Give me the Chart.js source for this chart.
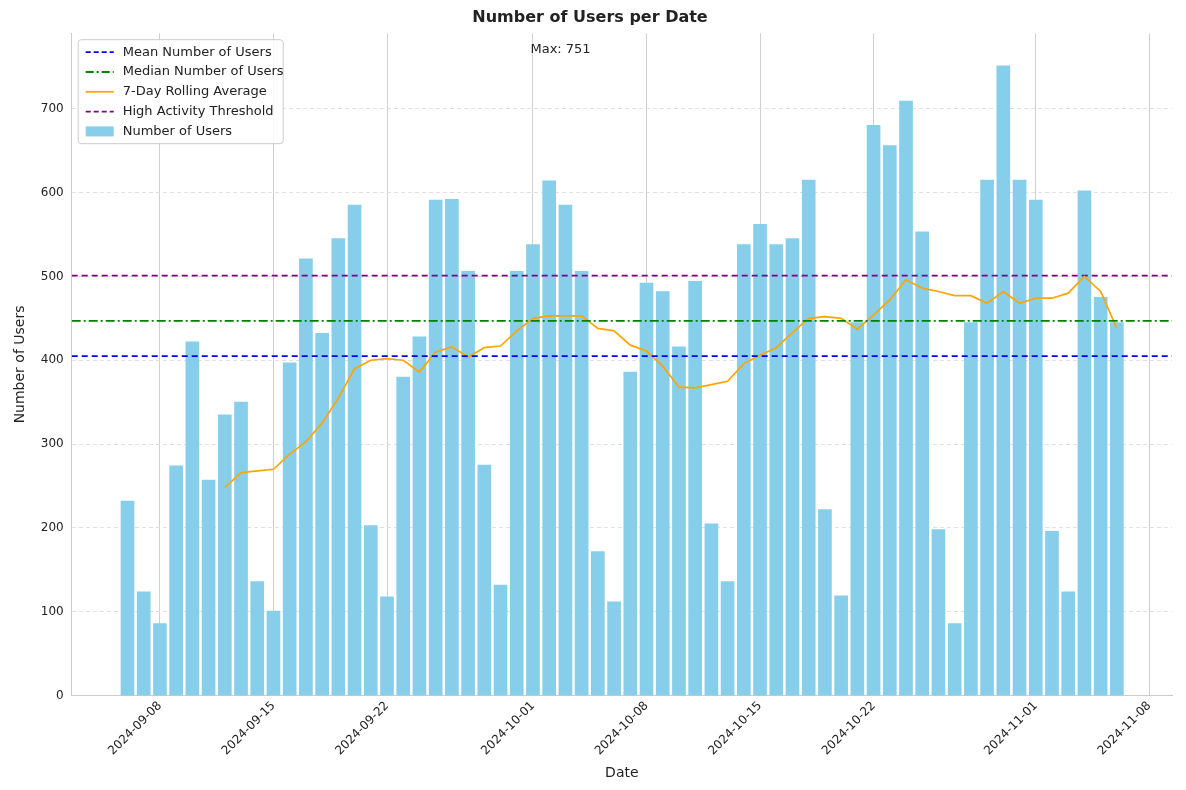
<!DOCTYPE html>
<html><head><meta charset="utf-8">
<script src="https://cdn.jsdelivr.net/npm/chart.js@4"></script>
<style>body{margin:0;background:#fff}#w{width:1186px;height:790px}</style>
</head><body><div id="w"><canvas id="c"></canvas></div>
<script>
var dates = ["2024-09-06","2024-09-07","2024-09-08","2024-09-09","2024-09-10","2024-09-11","2024-09-12","2024-09-13","2024-09-14","2024-09-15","2024-09-16","2024-09-17","2024-09-18","2024-09-19","2024-09-20","2024-09-21","2024-09-22","2024-09-23","2024-09-24","2024-09-25","2024-09-26","2024-09-27","2024-09-28","2024-09-29","2024-09-30","2024-10-01","2024-10-02","2024-10-03","2024-10-04","2024-10-05","2024-10-06","2024-10-07","2024-10-08","2024-10-09","2024-10-10","2024-10-11","2024-10-12","2024-10-13","2024-10-14","2024-10-15","2024-10-16","2024-10-17","2024-10-18","2024-10-19","2024-10-20","2024-10-21","2024-10-22","2024-10-23","2024-10-24","2024-10-25","2024-10-26","2024-10-27","2024-10-28","2024-10-29","2024-10-30","2024-10-31","2024-11-01","2024-11-02","2024-11-03","2024-11-04","2024-11-05","2024-11-06"];
var users = [232,124,86,274,422,257,335,350,136,101,397,521,432,545,585,203,118,380,428,591,592,506,275,132,506,538,614,585,506,172,112,386,492,482,416,494,205,136,538,562,538,545,615,222,119,445,680,656,709,553,198,86,445,615,751,615,591,196,124,602,475,445];
var rolling = [null,null,null,null,null,null,248,266,268,270,288,303,325,355,390,400,402,400,386,410,416,404,415,417,435,450,453,453,453,438,435,418,411,393,368,367,371,375,396,406,415,433,450,452,450,437,454,472,496,486,482,477,477,468,482,468,474,474,480,500,482,438];
var meanUsers = 405, medianUsers = 447, highThreshold = 501;
var tickLabels = ["2024-09-08","2024-09-15","2024-09-22","2024-10-01","2024-10-08","2024-10-15","2024-10-22","2024-11-01","2024-11-08"];
var yTicks = [0,100,200,300,400,500,600,700];

var DAY = 86400000, t0 = Date.parse(dates[0]);
function idx(d){ return Math.round((Date.parse(d) - t0) / DAY); }
var tickIdx = tickLabels.map(idx);
var xmin = -3.44, xmax = 64.4;
function hline(v){ return [{x:xmin,y:v},{x:xmax,y:v}]; }

var legendItems = [
  {t:"Mean Number of Users", c:"blue", dash:[5,3]},
  {t:"Median Number of Users", c:"green", dash:[8,3,2,3]},
  {t:"7-Day Rolling Average", c:"orange", dash:[]},
  {t:"High Activity Threshold", c:"purple", dash:[5,3]},
  {t:"Number of Users", c:"skyblue", box:true}
];
var extras = {
  id:"extras",
  afterDraw:function(ch){
    var g = ch.ctx, ca = ch.chartArea, xs = ch.scales.x, ys = ch.scales.y;
    g.save();
    g.font = "13px 'DejaVu Sans'"; g.fillStyle = "#222"; g.textAlign = "center"; g.textBaseline = "middle";
    g.fillText("Max: " + Math.max.apply(null, users), xs.getPixelForValue(26.7), ys.getPixelForValue(770));
    var x = ca.left + 6, y = ca.top + 6, w = 205, h = 104;
    g.fillStyle = "rgba(255,255,255,0.85)"; g.strokeStyle = "#ccc"; g.lineWidth = 1;
    g.beginPath(); g.roundRect(x + .5, y + .5, w, h, 3); g.fill(); g.stroke();
    g.textAlign = "left";
    legendItems.forEach(function(it, i){
      var yy = y + 13 + i * 19.8;
      if (it.box) { g.fillStyle = it.c; g.fillRect(x + 8, yy - 5, 28, 10); }
      else { g.strokeStyle = it.c; g.lineWidth = 1.8; g.setLineDash(it.dash); g.beginPath(); g.moveTo(x + 8, yy); g.lineTo(x + 36, yy); g.stroke(); g.setLineDash([]); }
      g.fillStyle = "#222"; g.fillText(it.t, x + 45, yy);
    });
    g.restore();
  }
};

new Chart(document.getElementById("c"), {
  data: {
    datasets: [
      {type:"line", label:"Mean Number of Users", data:hline(meanUsers), borderColor:"blue", borderDash:[6,4], borderWidth:1.7, pointRadius:0, order:1},
      {type:"line", label:"Median Number of Users", data:hline(medianUsers), borderColor:"green", borderDash:[9,3,2,3], borderWidth:1.7, pointRadius:0, order:1},
      {type:"line", label:"7-Day Rolling Average", data:rolling.map(function(v,i){return {x:i,y:v};}), borderColor:"orange", borderWidth:1.7, pointRadius:0, order:1},
      {type:"line", label:"High Activity Threshold", data:hline(highThreshold), borderColor:"purple", borderDash:[6,4], borderWidth:1.7, pointRadius:0, order:1},
      {type:"bar", label:"Number of Users", data:users.map(function(v,i){return {x:i,y:v};}), backgroundColor:"skyblue", barThickness:13, order:2}
    ]
  },
  options: {
    responsive:true, maintainAspectRatio:false, animation:false,
    layout:{padding:{left:8,right:14,top:6,bottom:4}},
    plugins:{
      legend:{display:false}, tooltip:{enabled:false},
      title:{display:true, text:"Number of Users per Date", font:{family:"DejaVu Sans", size:16, weight:"bold"}, color:"#222", padding:{top:2,bottom:6}}
    },
    scales:{
      x:{type:"linear", min:xmin, max:xmax, offset:false,
        afterBuildTicks:function(s){ s.ticks = tickIdx.map(function(v){return {value:v};}); },
        ticks:{callback:function(v){ var k = tickIdx.indexOf(v); return k < 0 ? "" : tickLabels[k]; }, maxRotation:45, minRotation:45, color:"#222", font:{family:"DejaVu Sans", size:12}},
        grid:{color:"#d0d0d0", drawTicks:false, offset:false}, border:{color:"#ccc"},
        title:{display:true, text:"Date", color:"#222", font:{family:"DejaVu Sans", size:14}}},
      y:{min:0, max:790,
        afterBuildTicks:function(s){ s.ticks = yTicks.map(function(v){return {value:v};}); },
        ticks:{color:"#222", padding:8, font:{family:"DejaVu Sans", size:12}},
        grid:{color:"#e0e0e0", drawTicks:false}, border:{color:"#ccc", dash:[4,3]},
        title:{display:true, text:"Number of Users", color:"#222", font:{family:"DejaVu Sans", size:14}}}
    }
  },
  plugins:[extras]
});
</script></body></html>
